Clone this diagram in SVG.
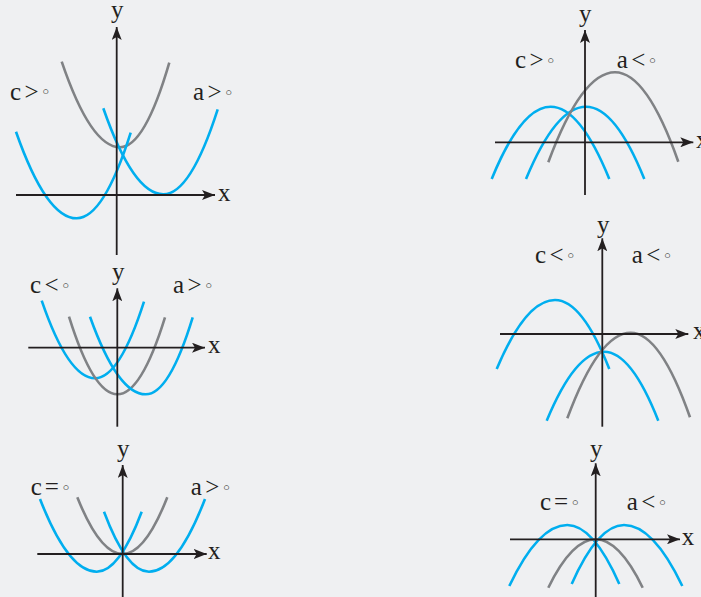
<svg xmlns="http://www.w3.org/2000/svg" width="701" height="597" viewBox="0 0 701 597">
<defs>
<marker id="ah" markerUnits="userSpaceOnUse" markerWidth="14" markerHeight="10" refX="13" refY="5" orient="auto">
<path d="M13,5 L0,0 L3,5 L0,10 z" fill="#231f20"/>
</marker>
<style>
.ax{stroke:#231f20;stroke-width:1.8;fill:none;marker-end:url(#ah)}
.b{stroke:#00aeef;stroke-width:2.6;fill:none}
.g{stroke:#808285;stroke-width:2.6;fill:none}
.t{font-family:"Liberation Serif","Times New Roman",serif;font-size:25px;fill:#231f20}
.o{font-family:"DejaVu Sans",sans-serif;font-size:17px}
</style>
</defs>
<rect width="701" height="597" fill="#eff0f2"/>

<g id="panel1">
<path class="g" d="M61.7,61.7 Q90.8,147.3 120,147.3 Q144.7,147.3 169.3,62.7"/>
<path class="b" d="M16,131.7 Q46.3,218.3 76.7,218.3 Q103.7,218.3 130.7,132.7"/>
<path class="b" d="M103.3,108.3 Q133.3,194.3 163.3,194.3 Q190.5,194.3 217.7,109.3"/>
<line class="ax" x1="16" y1="195" x2="215" y2="195"/>
<line class="ax" x1="116.7" y1="255" x2="116.7" y2="27"/>
<text class="t" x="111" y="17.5">y</text>
<text class="t" x="218" y="201">x</text>
<text class="t" x="10" y="99.5">c<tspan dx="3.5">&gt;</tspan><tspan class="o" dx="2" dy="-1.5">◦</tspan></text>
<text class="t" x="193" y="100">a<tspan dx="3.5">&gt;</tspan><tspan class="o" dx="2" dy="-1.5">◦</tspan></text>
</g>

<g id="panel2">
<path class="b" d="M491.7,179 Q521.2,106.7 550.7,106.7 Q580,106.7 609.3,179"/>
<path class="b" d="M526,179 Q556,106.7 586,106.7 Q615.2,106.7 644.3,179"/>
<path class="g" d="M548.3,162.3 Q581.7,72.3 615,72.3 Q646.7,72.3 678.3,161.7"/>
<line class="ax" x1="495" y1="142.3" x2="693.3" y2="142.3"/>
<line class="ax" x1="585" y1="195" x2="585" y2="30"/>
<text class="t" x="579" y="22">y</text>
<text class="t" x="696" y="148">x</text>
<text class="t" x="515" y="68">c<tspan dx="3.5">&gt;</tspan><tspan class="o" dx="2" dy="-1.5">◦</tspan></text>
<text class="t" x="616.7" y="68">a<tspan dx="3.5">&lt;</tspan><tspan class="o" dx="2" dy="-1.5">◦</tspan></text>
</g>

<g id="panel3">
<path class="b" d="M41.7,300.7 Q68.3,378.3 95,378.3 Q119.5,378.3 144,301.7"/>
<path class="g" d="M69,316.7 Q93.2,394.3 117.3,394.3 Q141.2,394.3 165,317.3"/>
<path class="b" d="M90,316.7 Q117.8,394.3 145.7,394.3 Q169.2,394.3 192.7,317.3"/>
<line class="ax" x1="28.3" y1="347.7" x2="205" y2="347.7"/>
<line class="ax" x1="117.3" y1="426.7" x2="117.3" y2="288.3"/>
<text class="t" x="112" y="280">y</text>
<text class="t" x="208" y="353">x</text>
<text class="t" x="30" y="293.3">c<tspan dx="3.5">&lt;</tspan><tspan class="o" dx="2" dy="-1.5">◦</tspan></text>
<text class="t" x="173" y="293.3">a<tspan dx="3.5">&gt;</tspan><tspan class="o" dx="2" dy="-1.5">◦</tspan></text>
</g>

<g id="panel4">
<path class="b" d="M496.7,369 Q525.8,300 555,300 Q582.2,300 609.3,369"/>
<path class="b" d="M546.7,420.7 Q575.3,351.7 604,351.7 Q631.2,351.7 658.3,420.7"/>
<path class="g" d="M567.3,418.3 Q599,332.7 630.7,332.7 Q660.3,332.7 690,417.3"/>
<line class="ax" x1="500" y1="334" x2="688.3" y2="334"/>
<line class="ax" x1="602.3" y1="426.7" x2="602.3" y2="238.3"/>
<text class="t" x="597" y="233">y</text>
<text class="t" x="693" y="339">x</text>
<text class="t" x="535" y="263.3">c<tspan dx="3.5">&lt;</tspan><tspan class="o" dx="2" dy="-1.5">◦</tspan></text>
<text class="t" x="631.7" y="263.3">a<tspan dx="3.5">&lt;</tspan><tspan class="o" dx="2" dy="-1.5">◦</tspan></text>
</g>

<g id="panel5">
<path class="b" d="M40,499 Q68.3,571.7 96.7,571.7 Q119.2,571.7 141.7,511.7"/>
<path class="b" d="M104,511.7 Q126.5,571.7 149,571.7 Q177,571.7 205,499"/>
<path class="g" d="M77.3,497.3 Q100,554 122.7,554 Q145,554 167.3,497.3"/>
<line class="ax" x1="37.3" y1="554" x2="206.7" y2="554"/>
<line class="ax" x1="122.7" y1="600" x2="122.7" y2="465"/>
<text class="t" x="117" y="457">y</text>
<text class="t" x="208" y="558.5">x</text>
<text class="t" x="30.7" y="495">c<tspan dx="3">=</tspan><tspan class="o" dx="2" dy="-1.5">◦</tspan></text>
<text class="t" x="190.7" y="495">a<tspan dx="3.5">&gt;</tspan><tspan class="o" dx="2" dy="-1.5">◦</tspan></text>
</g>

<g id="panel6">
<path class="b" d="M509.3,586 Q538.3,525 567.3,525 Q593.3,525 619.3,584"/>
<path class="b" d="M571.7,584 Q597.8,525 624,525 Q653.2,525 682.3,586"/>
<path class="g" d="M548.3,587.7 Q572,539.3 595.7,539.3 Q619.2,539.3 642.7,587.7"/>
<line class="ax" x1="510" y1="539.3" x2="680" y2="539.3"/>
<line class="ax" x1="595.7" y1="600" x2="595.7" y2="463.3"/>
<text class="t" x="590" y="456.7">y</text>
<text class="t" x="681.7" y="545">x</text>
<text class="t" x="540" y="510">c<tspan dx="3">=</tspan><tspan class="o" dx="2" dy="-1.5">◦</tspan></text>
<text class="t" x="626.7" y="510">a<tspan dx="3.5">&lt;</tspan><tspan class="o" dx="2" dy="-1.5">◦</tspan></text>
</g>
</svg>
